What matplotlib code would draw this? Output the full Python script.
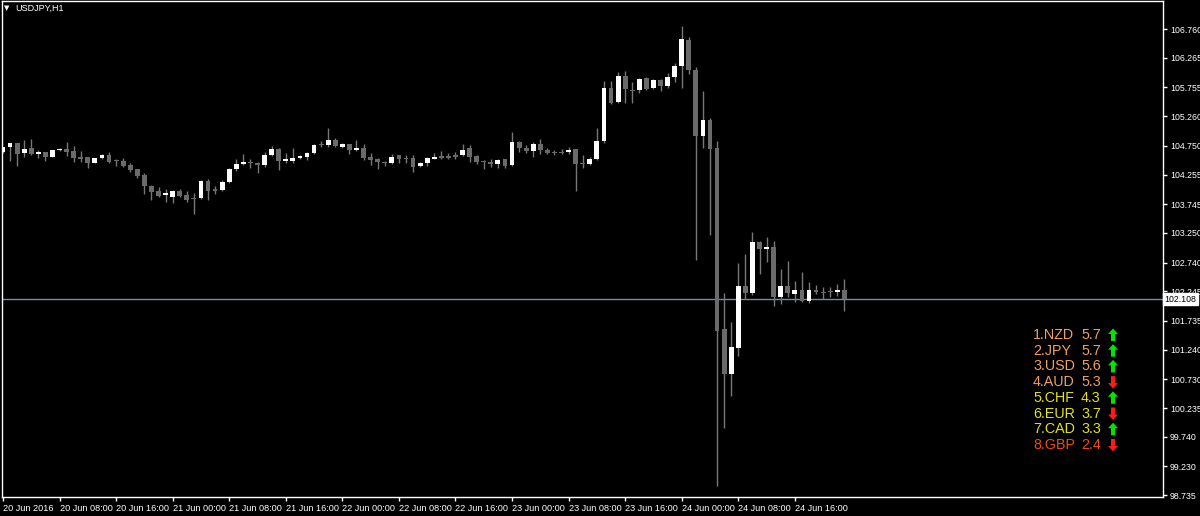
import matplotlib
matplotlib.use("Agg")
import matplotlib.pyplot as plt
import matplotlib.transforms as mtransforms
from matplotlib.patches import Polygon
import numpy as np

symbol_label = "USDJPY,H1"

opens = [104.638, 104.735, 104.792, 104.620, 104.718, 104.609, 104.643, 104.563, 104.672, 104.701,
         104.655, 104.551, 104.551, 104.460, 104.534, 104.597, 104.500, 104.488, 104.419, 104.345,
         104.247, 104.064, 103.978, 103.897, 103.874, 103.978, 103.897, 103.852, 103.846, 104.144,
         104.001, 103.983, 104.121, 104.345, 104.431, 104.465, 104.448, 104.414, 104.592, 104.689,
         104.483, 104.494, 104.534, 104.563, 104.620, 104.781, 104.758, 104.850, 104.729, 104.775,
         104.683, 104.718, 104.551, 104.523, 104.471, 104.448, 104.586, 104.540, 104.540, 104.397,
         104.454, 104.529, 104.569, 104.574, 104.592, 104.592, 104.706, 104.569, 104.483, 104.465,
         104.443, 104.517, 104.419, 104.810, 104.718, 104.666, 104.781, 104.672, 104.643, 104.643,
         104.638, 104.689, 104.454, 104.437, 104.517, 104.832, 105.739, 105.504, 105.951, 105.710,
         105.705, 105.917, 105.745, 105.887, 105.774, 105.929, 106.128, 106.571, 106.054, 104.924,
         105.194, 104.707, 101.591, 100.817, 101.264, 102.342, 102.211, 103.089, 102.968, 103.003,
         102.142, 102.342, 102.204, 102.263, 102.078, 102.268, 102.239, 102.239, 102.233, 102.263]
highs = [104.735, 104.804, 104.804, 104.850, 104.861, 104.678, 104.649, 104.683, 104.718, 104.810,
         104.747, 104.655, 104.563, 104.546, 104.609, 104.649, 104.517, 104.546, 104.448, 104.351,
         104.276, 104.075, 104.047, 104.001, 103.989, 104.001, 103.972, 103.943, 104.161, 104.173,
         104.058, 104.161, 104.368, 104.517, 104.603, 104.517, 104.477, 104.649, 104.747, 104.706,
         104.620, 104.706, 104.592, 104.649, 104.781, 104.838, 105.056, 104.878, 104.804, 104.781,
         104.850, 104.781, 104.632, 104.534, 104.494, 104.609, 104.597, 104.597, 104.597, 104.465,
         104.551, 104.620, 104.655, 104.620, 104.643, 104.781, 104.764, 104.586, 104.500, 104.517,
         104.517, 104.523, 104.987, 104.833, 104.764, 104.821, 104.867, 104.712, 104.672, 104.689,
         104.735, 104.701, 104.586, 104.563, 105.051, 105.865, 105.865, 106.025, 106.037, 105.848,
         105.911, 105.929, 105.899, 105.899, 105.998, 106.170, 106.812, 106.617, 106.111, 105.693,
         105.223, 104.837, 102.221, 101.722, 102.727, 102.882, 103.261, 103.116, 103.185, 103.116,
         102.634, 102.772, 102.423, 102.572, 102.405, 102.354, 102.314, 102.314, 102.376, 102.452]
lows = [104.620, 104.494, 104.408, 104.551, 104.592, 104.534, 104.494, 104.551, 104.660, 104.574,
        104.477, 104.477, 104.374, 104.448, 104.523, 104.448, 104.402, 104.391, 104.293, 104.190,
        103.920, 103.817, 103.874, 103.788, 103.771, 103.874, 103.788, 103.576, 103.829, 103.817,
        103.920, 103.972, 104.104, 104.316, 104.414, 104.362, 104.288, 104.391, 104.574, 104.333,
        104.448, 104.460, 104.517, 104.506, 104.603, 104.724, 104.735, 104.735, 104.712, 104.609,
        104.666, 104.506, 104.419, 104.351, 104.402, 104.431, 104.460, 104.448, 104.305, 104.379,
        104.397, 104.517, 104.517, 104.517, 104.517, 104.574, 104.471, 104.443, 104.345, 104.379,
        104.374, 104.374, 104.402, 104.649, 104.620, 104.563, 104.603, 104.615, 104.586, 104.609,
        104.615, 103.978, 104.374, 104.419, 104.506, 104.798, 105.469, 105.492, 105.492, 105.481,
        105.653, 105.710, 105.732, 105.693, 105.739, 105.853, 105.739, 105.980, 102.784, 104.707,
        103.214, 98.894, 99.887, 100.448, 101.132, 102.113, 102.182, 102.538, 102.745, 101.997,
        102.032, 102.152, 102.066, 102.066, 102.049, 102.199, 102.113, 102.152, 102.164, 101.911]
closes = [104.724, 104.792, 104.609, 104.701, 104.603, 104.638, 104.563, 104.672, 104.701, 104.643,
          104.546, 104.529, 104.448, 104.540, 104.597, 104.477, 104.483, 104.408, 104.333, 104.230,
          104.058, 103.960, 103.886, 103.943, 103.972, 103.886, 103.817, 103.834, 104.144, 103.978,
          103.978, 104.127, 104.351, 104.431, 104.471, 104.448, 104.414, 104.597, 104.689, 104.483,
          104.523, 104.540, 104.574, 104.620, 104.758, 104.758, 104.844, 104.752, 104.775, 104.678,
          104.718, 104.534, 104.511, 104.465, 104.454, 104.563, 104.523, 104.517, 104.391, 104.454,
          104.534, 104.563, 104.546, 104.546, 104.563, 104.683, 104.563, 104.477, 104.465, 104.443,
          104.500, 104.402, 104.821, 104.712, 104.666, 104.781, 104.678, 104.620, 104.620, 104.626,
          104.683, 104.437, 104.437, 104.517, 104.833, 105.739, 105.492, 105.951, 105.722, 105.693,
          105.899, 105.732, 105.887, 105.774, 105.929, 106.128, 106.588, 106.054, 104.924, 105.194,
          104.689, 101.567, 100.817, 101.282, 102.342, 102.211, 103.089, 102.968, 103.003, 102.142,
          102.342, 102.216, 102.263, 102.078, 102.263, 102.228, 102.221, 102.228, 102.263, 102.108]

x_tick_labels = ["20 Jun 2016", "20 Jun 08:00", "20 Jun 16:00", "21 Jun 00:00", "21 Jun 08:00",
                 "21 Jun 16:00", "22 Jun 00:00", "22 Jun 08:00", "22 Jun 16:00", "23 Jun 00:00",
                 "23 Jun 08:00", "23 Jun 16:00", "24 Jun 00:00", "24 Jun 08:00", "24 Jun 16:00"]
y_tick_values = [106.760, 106.265, 105.755, 105.260, 104.750, 104.255, 103.745, 103.250, 102.740,
                 102.245, 101.735, 101.240, 100.730, 100.235, 99.740, 99.230, 98.735]
bid_price = 102.108

strength_names = ["NZD", "JPY", "USD", "AUD", "CHF", "EUR", "CAD", "GBP"]
strength_values = [5.7, 5.7, 5.6, 5.3, 4.3, 3.7, 3.3, 2.4]
strength_dirs = [1, 1, 1, -1, 1, -1, 1, -1]
strength_colors = ["#F0A060", "#F0A060", "#F0A060", "#F0A060",
                   "#E2E418", "#E2E418", "#E2E418", "#F04A1A"]

W, H = 1200, 516
fig = plt.figure(figsize=(W / 100, H / 100), dpi=100, facecolor="black")
ax = fig.add_axes([1.5 / W, (H - 497) / H, (1163 - 1.5) / W, (497 - 1) / H])
ax.set_facecolor("black")

o = np.array(opens); h = np.array(highs); l = np.array(lows); c = np.array(closes)
xs = np.arange(len(o))
ax.vlines(xs, l, h, color="#777777", lw=1, zorder=1)
up = c >= o
bottoms = np.minimum(o, c)
heights = np.maximum(np.abs(c - o), 0.018)
ax.bar(xs[up], heights[up], bottom=bottoms[up], width=0.68, color="white",
       edgecolor="none", zorder=2)
ax.bar(xs[~up], heights[~up], bottom=bottoms[~up], width=0.68, color="#6a6a6a",
       edgecolor="none", zorder=2)

ax.axhline(bid_price, color="#7a8a9a", lw=1, zorder=0)

ax.set_xlim(-0.21, 164.07)
ax.set_ylim(98.705, 107.242)

for s in ax.spines.values():
    s.set_color("white")
    s.set_linewidth(1)

ax.yaxis.tick_right()
ax.set_yticks(y_tick_values)
ax.set_yticklabels([f"{v:.3f}" for v in y_tick_values], fontfamily="Liberation Sans")
ax.tick_params(axis="y", colors="white", length=3, width=1, pad=2, labelsize=6.3,
               labelcolor="white")
ax.set_xticks(np.arange(0, 8 * len(x_tick_labels), 8))
ax.set_xticklabels(x_tick_labels, ha="left", fontfamily="Liberation Sans")
ax.tick_params(axis="x", colors="white", length=3, width=1, pad=2, labelsize=6.6,
               labelcolor="white")

trans = mtransforms.blended_transform_factory(ax.transAxes, ax.transData)
ax.text(1.0015, bid_price, f"{bid_price:.3f}", transform=trans, ha="left", va="center",
        fontsize=6.3, color="black", fontfamily="Liberation Sans",
        bbox=dict(boxstyle="square,pad=0.15", facecolor="white", edgecolor="white"))

fig.text(4 / W, 1 - 8 / H, "\u25bc", color="white", fontsize=5, va="center", ha="left",
         fontfamily="DejaVu Sans")
fig.text(15 / W, 1 - 8 / H, symbol_label, color="white", fontsize=6.5, va="center",
         ha="left", fontfamily="Liberation Sans")

# arrow outline in pixel offsets (y grows downward), pointing up
ARROW_SHAPE = [(0, -6.5), (5, -1), (2, -1), (2, 6), (-2, 6), (-2, -1), (-5, -1)]


def arrow_poly(cx, cy, direction):
    sign = 1 if direction > 0 else -1
    return [((cx + px) / W, 1 - (cy + sign * py) / H) for px, py in ARROW_SHAPE]


for k, (name, val, d, col) in enumerate(zip(strength_names, strength_values,
                                           strength_dirs, strength_colors)):
    ypx = 335 + 15.7 * k
    yy = 1 - ypx / H
    fig.text(1033 / W, yy, f"{k + 1}.{name}", color=col, fontsize=10.3, va="center",
             ha="left", fontfamily="Liberation Sans")
    fig.text(1081 / W, yy, f"{val:.1f}", color=col, fontsize=10.3, va="center",
             ha="left", fontfamily="Liberation Sans")
    fig.patches.append(Polygon(arrow_poly(1113, ypx, d), closed=True,
                               facecolor="#00E400" if d > 0 else "#FF1A1A",
                               edgecolor="none", transform=fig.transFigure, figure=fig))

fig.savefig("out.png", dpi=100, facecolor="black")
